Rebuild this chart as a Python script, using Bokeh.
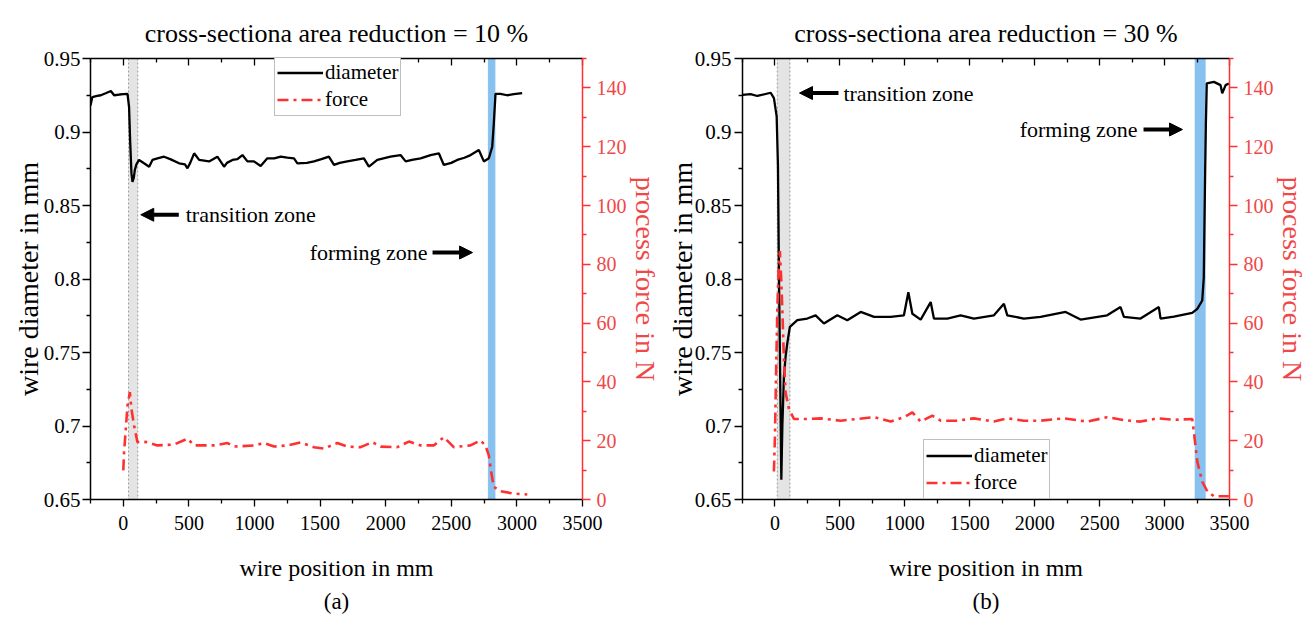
from bokeh.plotting import figure
from bokeh.layouts import row
from bokeh.models import (Range1d, LinearAxis, FixedTicker, CustomJSTickFormatter,
                          BoxAnnotation, Span, Label, Arrow, NormalHead, Title,
                          Legend, LegendItem)
from bokeh.embed import file_html
from bokeh.resources import INLINE

FONT = "Liberation Serif"
RED = "#ff3030"
RED_TXT = "#f04848"
BLUE = "#86c1ef"
GRAY = "#e4e4e4"

# ---------------- data ----------------
titles = ["cross-sectiona area reduction = 10 %", "cross-sectiona area reduction = 30 %"]
sub_labels = ["(a)", "(b)"]
x_ticks = [0, 500, 1000, 1500, 2000, 2500, 3000, 3500]
x_minor = [-250, 250, 750, 1250, 1750, 2250, 2750, 3250]
d_ticks = [0.65, 0.7, 0.75, 0.8, 0.85, 0.9, 0.95]
d_minor = [0.675, 0.725, 0.775, 0.825, 0.875, 0.925]
f_ticks = [0, 20, 40, 60, 80, 100, 120, 140]
f_minor = [10, 30, 50, 70, 90, 110, 130, 150]

# panel (a): 10 %
a_diam_x = [-250, -236, -200, -171, -130, -95, -70, -30, 0, 32, 44, 52, 62, 70, 80, 88, 100, 120, 158, 197,
            222, 260, 311, 362, 425, 470, 489, 510, 540, 578, 654, 717, 768, 790, 832, 870, 908, 946, 996, 1047,
            1098, 1150, 1200, 1250, 1301, 1327, 1400, 1453, 1510, 1567, 1606, 1650, 1707, 1770, 1834, 1872, 1936, 2037, 2113, 2152,
            2200, 2266, 2342, 2405, 2443, 2500, 2545, 2600, 2647, 2710, 2748, 2786, 2812, 2824, 2837, 2875, 2926, 2977, 3040]
a_diam_y = [0.918, 0.9238, 0.9245, 0.925, 0.9265, 0.9279, 0.925, 0.9255, 0.9258, 0.926, 0.917, 0.8945, 0.872, 0.866, 0.869, 0.8742, 0.878, 0.881, 0.8787, 0.8764,
            0.881, 0.882, 0.8832, 0.8814, 0.8787, 0.878, 0.8753, 0.879, 0.8855, 0.881, 0.880, 0.8832, 0.8764, 0.879, 0.881, 0.8815, 0.8843, 0.880, 0.880, 0.8769,
            0.8821, 0.882, 0.8832, 0.8825, 0.8821, 0.8787, 0.879, 0.880, 0.8815, 0.8832, 0.8776, 0.879, 0.880, 0.881, 0.8821, 0.8764, 0.881, 0.8832, 0.8843, 0.880,
            0.881, 0.8821, 0.8843, 0.8855, 0.8776, 0.879, 0.881, 0.8825, 0.8843, 0.8877, 0.880, 0.8821, 0.890, 0.9058, 0.926, 0.926, 0.925, 0.9257, 0.9265]
a_force_x = [0, 6, 19, 32, 50, 62, 82, 108, 133, 184, 260, 387, 489, 540, 692, 794, 844, 996, 1072, 1149, 1250, 1352,
             1453, 1529, 1631, 1707, 1809, 1898, 1961, 2088, 2177, 2266, 2367, 2443, 2519, 2646, 2722, 2760, 2786, 2804, 2824, 2875, 2977, 3079]
a_force_y = [9.9, 16.1, 24, 31.9, 36.5, 30.8, 25.2, 19.5, 19.7, 19.5, 18.4, 18.7, 20.7, 18.4, 18.4, 19.2, 18.0, 18.4, 19.2, 18.0, 18.4, 19.4,
             17.8, 17.3, 19.2, 18.0, 17.8, 19.5, 18.0, 17.8, 19.7, 18.4, 18.4, 21.2, 17.8, 18.4, 20.1, 18.4, 15.0, 9.4, 4.3, 2.8, 2.0, 1.7]
a_transition = [40, 110]
a_forming = [2780, 2835]

# panel (b): 30 %
b_diam_x = [-250, -188, -136, -33, -8, 13, 23, 31, 38, 49, 57, 69, 82, 95, 115, 172, 249, 313, 377, 480,
            557, 660, 763, 891, 993, 1027, 1058, 1122, 1199, 1224, 1327, 1430, 1532, 1686, 1763, 1789, 1917, 2045, 2238, 2353,
            2558, 2661, 2687, 2815, 2956, 2969, 3072, 3213, 3252, 3290, 3302, 3306, 3312, 3318, 3325, 3380, 3431, 3444, 3470, 3495]
b_diam_y = [0.9252, 0.9258, 0.9245, 0.9267, 0.923, 0.9106, 0.877, 0.801, 0.7496, 0.6635, 0.7004, 0.7339, 0.7474, 0.7563, 0.7675, 0.772, 0.7731, 0.7753, 0.7697, 0.7753,
            0.772, 0.7776, 0.7742, 0.7742, 0.7753, 0.791, 0.7764, 0.7724, 0.7843, 0.7731, 0.7731, 0.7753, 0.7731, 0.7753, 0.7831, 0.7753, 0.7731, 0.7742, 0.7776, 0.7724,
            0.7753, 0.7809, 0.7742, 0.7731, 0.7809, 0.7731, 0.7744, 0.7769, 0.7797, 0.7854, 0.801, 0.83, 0.87, 0.905, 0.933, 0.9341, 0.9319, 0.9263, 0.9319, 0.933]
b_force_x = [-8, 0, 8, 18, 28, 38, 48, 57, 69, 82, 108, 146, 249, 352, 506, 634, 763, 891, 993, 1058, 1122, 1212,
             1276, 1404, 1532, 1686, 1789, 1917, 2045, 2225, 2405, 2558, 2687, 2815, 2944, 3072, 3213, 3226, 3252, 3290, 3329, 3380, 3495]
b_force_y = [9.5, 21.8, 42, 64.3, 78, 84.5, 75, 64.3, 47.6, 36.3, 30.8, 27.4, 27.4, 27.6, 26.8, 27.4, 28.0, 26.5, 28.0, 29.6, 26.5, 28.5,
             26.8, 26.8, 27.6, 26.5, 27.6, 26.8, 26.8, 27.6, 26.5, 28.0, 27.0, 26.5, 27.6, 27.1, 27.4, 22.9, 12.9, 6.1, 2.8, 1.1, 1.1]
b_transition = [18, 115]
b_forming = [3233, 3316]

# annotation anchors (data units): arrow tail/head x, y; text anchor
a_trans_arrow = (423, 133, 0.8437)
a_trans_text = (476, 0.8437)
a_form_text = (2319, 0.818)
a_form_arrow = (2357, 2662, 0.818)
b_trans_arrow = (489, 189, 0.9265)
b_trans_text = (527, 0.9265)
b_form_text = (2792, 0.9017)
b_form_arrow = (2838, 3138, 0.9017)

fmt = CustomJSTickFormatter(code="return (Math.round(tick*1000)/1000).toString();")


def style_axis(ax, color="black", lab_color="black", tick_size="20px", label_size="24px"):
    ax.axis_line_color = color
    ax.axis_line_width = 1.5
    ax.major_tick_line_color = color
    ax.minor_tick_line_color = color
    ax.major_tick_line_width = 1.3
    ax.minor_tick_line_width = 1.3
    ax.major_label_text_font = FONT
    ax.major_label_text_font_size = tick_size
    ax.major_label_text_color = lab_color
    ax.axis_label_text_font = FONT
    ax.axis_label_text_font_size = label_size
    ax.axis_label_text_font_style = "normal"
    ax.axis_label_text_color = color


def panel(idx, dx, dy, fx, fy, trans, form, t_arrow, t_text, f_text, f_arrow,
          legend_xy, borders, offs):
    bl, br, bt, bb, w = borders
    lab_so, axlab_so, sub_so, yl_so, yl_lso, yr_so, yr_lso = offs
    p = figure(width=w, height=617, x_range=Range1d(-250, 3500), y_range=Range1d(0.65, 0.95),
               output_backend="svg", toolbar_location=None,
               min_border_left=bl, min_border_right=br, min_border_top=bt, min_border_bottom=bb,
               x_axis_location=None, y_axis_location=None, outline_line_color=None)
    p.extra_y_ranges = {"force": Range1d(0, 150)}
    p.grid.visible = False

    p.title.text = titles[idx]
    p.title.align = "center"
    p.title.text_font = FONT
    p.title.text_font_size = "26px"
    p.title.text_font_style = "normal"
    p.title.text_color = "black"
    p.title.standoff = 22

    # bottom axis
    xb = LinearAxis(ticker=FixedTicker(ticks=x_ticks, minor_ticks=x_minor), axis_label="wire position in mm")
    style_axis(xb, label_size="24px")
    xb.major_tick_out, xb.major_tick_in = 7, 0
    xb.minor_tick_out, xb.minor_tick_in = 4, 0
    xb.major_label_standoff = lab_so
    xb.axis_label_standoff = axlab_so
    p.add_layout(xb, "below")
    p.add_layout(Title(text=sub_labels[idx], align="center", text_font=FONT, text_font_size="23px",
                       text_font_style="normal", text_color="black", standoff=sub_so), "below")

    # top axis (ticks only)
    xt = LinearAxis(ticker=FixedTicker(ticks=x_ticks, minor_ticks=x_minor))
    style_axis(xt, tick_size="1px")
    xt.major_label_text_color = None
    xt.major_label_standoff = 0
    xt.major_tick_out, xt.major_tick_in = 0, 7
    xt.minor_tick_out, xt.minor_tick_in = 0, 4
    p.add_layout(xt, "above")

    # left axis
    yl = LinearAxis(ticker=FixedTicker(ticks=d_ticks, minor_ticks=d_minor), formatter=fmt,
                    axis_label="wire diameter in mm")
    style_axis(yl, tick_size="21px", label_size="28px")
    yl.major_tick_out, yl.major_tick_in = 8, 0
    yl.minor_tick_out, yl.minor_tick_in = 4, 0
    yl.major_label_standoff = yl_so
    yl.axis_label_standoff = yl_lso
    p.add_layout(yl, "left")

    # right axis (force)
    yr = LinearAxis(y_range_name="force", ticker=FixedTicker(ticks=f_ticks, minor_ticks=f_minor),
                    axis_label="process force in N")
    style_axis(yr, color=RED, lab_color=RED_TXT, tick_size="20px", label_size="28px")
    yr.axis_label_text_color = RED_TXT
    yr.axis_label_orientation = "vertical"
    yr.major_tick_out, yr.major_tick_in = 8, 0
    yr.minor_tick_out, yr.minor_tick_in = 4, 0
    yr.major_label_standoff = yr_so
    yr.axis_label_standoff = yr_lso
    p.add_layout(yr, "right")

    # zones
    p.add_layout(BoxAnnotation(left=trans[0], right=trans[1], fill_color=GRAY, fill_alpha=1,
                               line_color=None, level="underlay"))
    for loc in trans:
        p.add_layout(Span(location=loc, dimension="height", line_color="#9a9a9a", line_width=1,
                          line_dash="2 2", level="underlay"))
    p.add_layout(BoxAnnotation(left=form[0], right=form[1], fill_color=BLUE, fill_alpha=1,
                               line_color="#a9cbe6", line_width=1, level="underlay"))

    r_d = p.line(dx, dy, line_color="black", line_width=2.3)
    r_f = p.line(fx, fy, y_range_name="force", line_color=RED, line_width=2.6, line_dash="11 5 3 5")

    # annotations
    p.add_layout(Arrow(end=NormalHead(size=13, fill_color="black", line_color="black"),
                       x_start=t_arrow[0], x_end=t_arrow[1], y_start=t_arrow[2], y_end=t_arrow[2],
                       line_width=4, line_color="black"))
    p.add_layout(Label(x=t_text[0], y=t_text[1], text="transition zone", text_font=FONT,
                       text_font_size="22px", text_baseline="middle", text_align="left", text_color="black"))
    p.add_layout(Label(x=f_text[0], y=f_text[1], text="forming zone", text_font=FONT,
                       text_font_size="22px", text_baseline="middle", text_align="right", text_color="black"))
    p.add_layout(Arrow(end=NormalHead(size=13, fill_color="black", line_color="black"),
                       x_start=f_arrow[0], x_end=f_arrow[1], y_start=f_arrow[2], y_end=f_arrow[2],
                       line_width=4, line_color="black"))

    leg = Legend(items=[LegendItem(label="diameter", renderers=[r_d]),
                        LegendItem(label="force", renderers=[r_f])],
                 location=legend_xy, orientation="vertical")
    leg.label_text_font = FONT
    leg.label_text_font_size = "21px"
    leg.label_text_color = "black"
    leg.border_line_color = "#808080"
    leg.border_line_width = 1
    leg.background_fill_alpha = 1
    leg.padding = 2
    leg.margin = 0
    leg.spacing = 0
    leg.glyph_width = 46
    leg.glyph_height = 27
    leg.label_height = 27
    leg.label_standoff = 2
    p.add_layout(leg)
    return p


pa = panel(0, a_diam_x, a_diam_y, a_force_x, a_force_y, a_transition, a_forming,
           a_trans_arrow, a_trans_text, a_form_text, a_form_arrow, (184, 383),
           (90, 81, 58, 116, 663), (9, 22, 7, 2, -3, 6, 0))
pb = panel(1, b_diam_x, b_diam_y, b_force_x, b_force_y, b_transition, b_forming,
           b_trans_arrow, b_trans_text, b_form_text, b_form_arrow, (181, 0),
           (79, 84, 58, 116, 650), (9, 22, 7, 3, -6, 6, 0))

layout = row(pa, pb)
open("out.html", "w").write(file_html(layout, INLINE))
